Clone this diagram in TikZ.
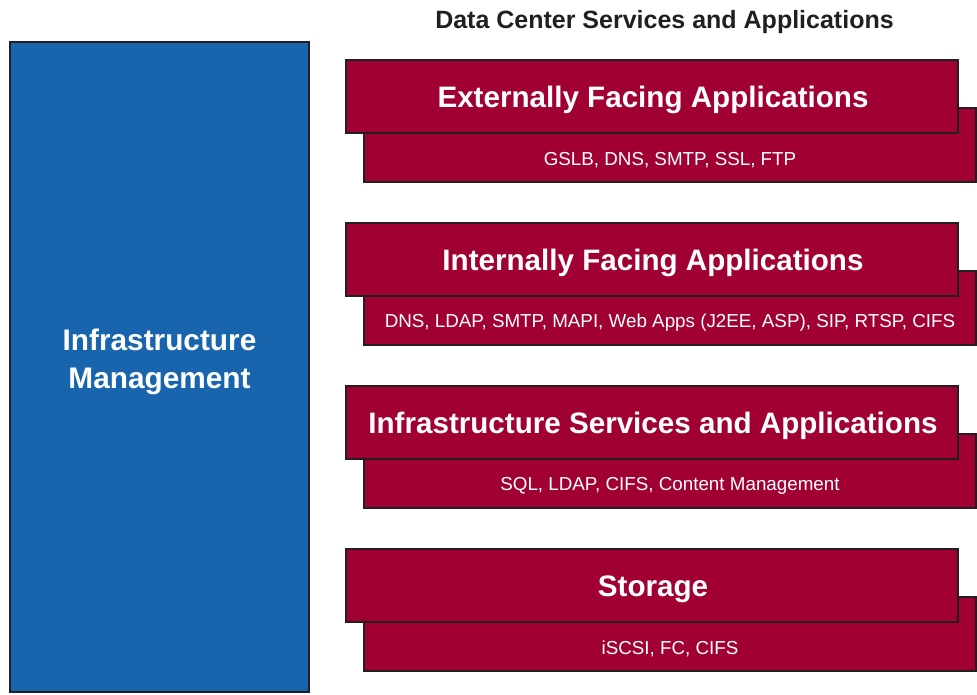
\documentclass[tikz,border=0pt]{standalone}
\usepackage{fontspec}
\setmainfont{Liberation Sans}
\definecolor{boxred}{HTML}{A10033}
\definecolor{boxblue}{HTML}{1865AD}
\definecolor{edge}{HTML}{231F20}
\tikzset{
  panel/.style={draw=edge, line width=2pt, rectangle, inner sep=0pt},
  frontbox/.style={panel, fill=boxred, minimum width=612pt, minimum height=73pt},
  backbox/.style={panel, fill=boxred, minimum width=612pt, minimum height=74pt},
  boxtitle/.style={text=white, font=\fontsize{29.6}{34}\selectfont\bfseries},
  boxsub/.style={text=white, font=\fontsize{18.8}{22}\selectfont},
}
\begin{document}
\begin{tikzpicture}[x=1pt, y=-1pt]
\useasboundingbox (0,0) rectangle (977,694);
% title
\node[text=edge, font=\fontsize{25}{30}\selectfont\bfseries] (title) at (664.5,22) {Data Center Services and Applications};
% blue management box
\node[panel, fill=boxblue, minimum width=299pt, minimum height=650pt] (mgmt) at (159.5,367) {};
\node[text=white, align=center, font=\fontsize{29.8}{38}\selectfont\bfseries] (mgmtlabel) at (159.5,362) {Infrastructure\\Management};
% layers
\foreach \T/\name/\ttl/\sub in {
  60/ext/{Externally Facing Applications}/{GSLB, DNS, SMTP, SSL, FTP},
  223/int/{Internally Facing Applications}/{DNS, LDAP, SMTP, MAPI, Web Apps (J2EE, ASP), SIP, RTSP, CIFS},
  386/infra/{Infrastructure Services and Applications}/{SQL, LDAP, CIFS, Content Management},
  549/stor/{Storage}/{iSCSI, FC, CIFS}}{
  \node[backbox] (\name-back) at (670,\T+85) {};
  \node[frontbox] (\name-front) at (652,\T+36.5) {};
  \node[boxtitle] (\name-title) at (653,\T+40) {\ttl};
  \node[boxsub] (\name-sub) at (670,\T+100) {\sub};
}
\end{tikzpicture}
\end{document}
